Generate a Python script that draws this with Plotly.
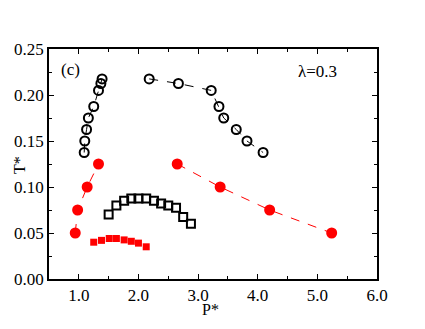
import plotly.graph_objects as go

# Black open circles (dashed line), left branch
bc_left_P = [1.09, 1.10, 1.13, 1.16, 1.25, 1.33, 1.37, 1.39]
bc_left_T = [0.1375, 0.150, 0.1625, 0.175, 0.1875, 0.205, 0.2125, 0.2175]
# Black open circles, right branch
bc_right_P = [2.18, 2.67, 3.22, 3.35, 3.43, 3.64, 3.82, 4.09]
bc_right_T = [0.2175, 0.2125, 0.205, 0.1875, 0.175, 0.1625, 0.150, 0.1375]
# Red filled circles, left branch
rc_left_P = [0.94, 0.98, 1.14, 1.33]
rc_left_T = [0.050, 0.075, 0.100, 0.125]
# Red filled circles, right branch
rc_right_P = [2.65, 3.37, 4.20, 5.24]
rc_right_T = [0.125, 0.100, 0.075, 0.050]
# Black open squares
bs_P = [1.50, 1.63, 1.76, 1.88, 2.00, 2.13, 2.26, 2.38, 2.50, 2.63, 2.75, 2.88]
bs_T = [0.070, 0.080, 0.085, 0.0875, 0.0875, 0.0875, 0.085, 0.082, 0.080, 0.0775, 0.0675, 0.060]
# Red filled squares
rs_P = [1.25, 1.38, 1.51, 1.63, 1.76, 1.88, 2.00, 2.13]
rs_T = [0.040, 0.042, 0.044, 0.044, 0.0425, 0.041, 0.039, 0.035]

x_ticks = [1.0, 2.0, 3.0, 4.0, 5.0, 6.0]
y_ticks = [0.00, 0.05, 0.10, 0.15, 0.20, 0.25]

fig = go.Figure()

def circ_line(P, T, color, filled):
    fig.add_trace(go.Scatter(
        x=P, y=T, mode="lines+markers",
        line=dict(color=color, width=1, dash="dash"),
        marker=dict(symbol="circle" if filled else "circle-open", size=9,
                    color=color, line=dict(color=color, width=2)),
        showlegend=False))

circ_line(bc_left_P, bc_left_T, "black", False)
circ_line(bc_right_P, bc_right_T, "black", False)
circ_line(rc_left_P, rc_left_T, "#ff0000", True)
circ_line(rc_right_P, rc_right_T, "#ff0000", True)

fig.add_trace(go.Scatter(x=bs_P, y=bs_T, mode="markers",
                         marker=dict(symbol="square-open", size=8, color="black",
                                     line=dict(color="black", width=2)),
                         showlegend=False))
fig.add_trace(go.Scatter(x=rs_P, y=rs_T, mode="markers",
                         marker=dict(symbol="square", size=7, color="#ff0000",
                                     line=dict(color="#ff0000", width=0)),
                         showlegend=False))

font = dict(family="Liberation Serif", size=17, color="black")
title_font = dict(family="Liberation Serif", size=16, color="black")

# page has an 8px body margin, so the figure is offset by 8px
OFF = 8
W, H = 417, 321
l, t = 49 - OFF, 49 - OFF
pw, ph = 328, 230
r, b = W - l - pw, H - t - ph

def px(xs):
    return (xs - OFF - l) / pw

def py(ys):
    return (H - b - (ys - OFF)) / ph

fig.update_layout(
    width=W, height=H,
    margin=dict(l=l, r=r, t=t, b=b, autoexpand=False),
    paper_bgcolor="white", plot_bgcolor="white",
    font=font,
    xaxis=dict(range=[0.5, 6.0], tickvals=x_ticks, ticktext=[f"{v:.1f}" for v in x_ticks],
               ticks="inside", ticklen=5, tickcolor="black", showgrid=False, zeroline=False,
               showline=True, linecolor="black", linewidth=1.5, mirror="ticks",
               minor=dict(tickvals=[1.5, 2.5, 3.5, 4.5, 5.5], ticks="inside", ticklen=3, tickcolor="black"),
               tickfont=font, automargin=False),
    yaxis=dict(range=[0.0, 0.25], tickvals=y_ticks, ticktext=[f"{v:.2f}" for v in y_ticks],
               ticks="inside", ticklen=5, tickcolor="black", showgrid=False, zeroline=False,
               showline=True, linecolor="black", linewidth=1.5, mirror="ticks",
               minor=dict(tickvals=[0.025, 0.075, 0.125, 0.175, 0.225], ticks="inside", ticklen=3, tickcolor="black"),
               tickfont=font, automargin=False),
    annotations=[
        dict(text="(c)", x=px(70), y=py(69), xref="paper", yref="paper", showarrow=False,
             xanchor="center", yanchor="middle", font=font),
        dict(text="λ=0.3", x=px(317), y=py(71), xref="paper", yref="paper", showarrow=False,
             xanchor="center", yanchor="middle", font=font),
        dict(text="P*", x=px(210), y=py(309), xref="paper", yref="paper", showarrow=False,
             xanchor="center", yanchor="middle", font=title_font),
        dict(text="T*", x=px(19), y=py(165), xref="paper", yref="paper", showarrow=False,
             xanchor="center", yanchor="middle", textangle=-90, font=title_font),
    ],
)

fig.write_html("out.html")
